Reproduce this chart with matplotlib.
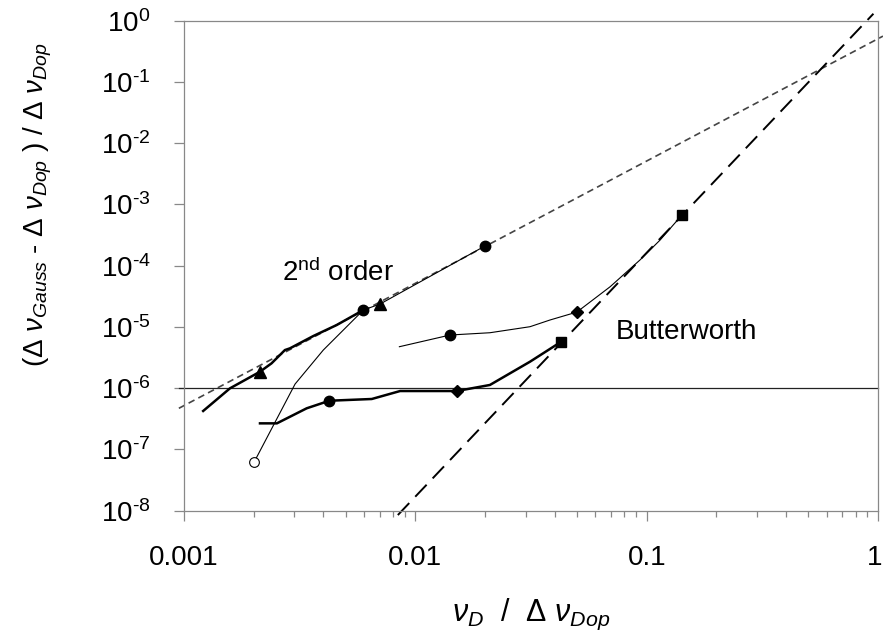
import matplotlib
matplotlib.use("Agg")
import matplotlib.pyplot as plt
import matplotlib.transforms as mtransforms
from matplotlib.ticker import FixedLocator, LogLocator, NullFormatter

plt.rcParams["font.family"] = "Liberation Sans"
plt.rcParams["mathtext.fontset"] = "custom"
plt.rcParams["mathtext.rm"] = "Liberation Sans"
plt.rcParams["mathtext.it"] = "Liberation Sans:italic"
plt.rcParams["mathtext.bf"] = "Liberation Sans:bold"

# --- reference lines ---
x_2nd_theory = [9.5e-4, 1.05]
y_2nd_theory = [4.7e-7, 0.56]
x_bw_theory = [8.4e-3, 0.955]
y_bw_theory = [8.5e-9, 1.3]
x_floor = [9.5e-4, 1.0]
y_floor = [1e-6, 1e-6]

# --- 2nd order filter, thick curve ---
x_2nd_thick = [1.21e-3, 1.58e-3, 2.13e-3, 2.39e-3, 2.73e-3, 2.87e-3,
               3.62e-3, 4.57e-3, 5.96e-3]
y_2nd_thick = [4.25e-7, 9.96e-7, 1.86e-6, 2.55e-6, 4.2e-6, 4.48e-6,
               7.11e-6, 1.076e-5, 1.89e-5]

# --- 2nd order filter, thin curve ---
x_2nd_thin = [2.007e-3, 3.02e-3, 4.0e-3, 5.96e-3, 7.04e-3, 2.0e-2]
y_2nd_thin = [6.17e-8, 1.17e-6, 4.2e-6, 1.89e-5, 2.37e-5, 2.1e-4]

# --- Butterworth filter, thick curve ---
x_bw_thick = [2.13e-3, 2.52e-3, 3.39e-3, 4.25e-3, 6.48e-3, 8.59e-3,
              1.066e-2, 1.51e-2, 2.10e-2, 3.13e-2, 4.27e-2]
y_bw_thick = [2.67e-7, 2.67e-7, 4.7e-7, 6.25e-7, 6.67e-7, 9.0e-7,
              9.0e-7, 9.0e-7, 1.13e-6, 2.71e-6, 5.74e-6]

# --- Butterworth filter, thin curve ---
x_bw_thin = [8.53e-3, 1.413e-2, 2.10e-2, 3.13e-2, 3.82e-2, 4.99e-2,
             6.95e-2, 9.35e-2, 0.1143, 0.142]
y_bw_thin = [4.76e-6, 7.39e-6, 8.05e-6, 1.01e-5, 1.30e-5, 1.75e-5,
             4.54e-5, 1.24e-4, 2.63e-4, 6.73e-4]

# --- markers ---
tri_x = [2.13e-3, 7.04e-3]
tri_y = [1.86e-6, 2.37e-5]
circ_x = [5.96e-3, 2.0e-2, 4.25e-3, 1.413e-2]
circ_y = [1.89e-5, 2.1e-4, 6.25e-7, 7.39e-6]
diam_x = [1.51e-2, 4.99e-2]
diam_y = [9.0e-7, 1.75e-5]
sq_x = [4.27e-2, 0.142]
sq_y = [5.74e-6, 6.73e-4]
open_x = [2.007e-3]
open_y = [6.17e-8]

xticks = [0.001, 0.01, 0.1, 1]
xticklabels = ["0.001", "0.01", "0.1", "1"]
yexps = [0, -1, -2, -3, -4, -5, -6, -7, -8]

fig = plt.figure(figsize=(8.83, 6.35), dpi=100)
ax = fig.add_axes([0.2084, 0.1957, 0.7860, 0.7717])

ax.set_xscale("log")
ax.set_yscale("log")
ax.set_xlim(1e-3, 1)
ax.set_ylim(1e-8, 1)

ax.plot(x_floor, y_floor, color="#222222", lw=0.9, clip_on=False, zorder=2)
ax.plot(x_2nd_theory, y_2nd_theory, color="#444444", lw=1.2,
        ls=(0, (4.0, 2.6)), clip_on=False, zorder=2)
ax.plot(x_bw_theory, y_bw_theory, color="black", lw=1.4,
        ls=(0, (8.5, 4.5)), clip_on=False, zorder=2)

ax.plot(x_2nd_thick, y_2nd_thick, color="black", lw=1.8, zorder=3)
ax.plot(x_2nd_thin, y_2nd_thin, color="black", lw=0.8, zorder=3)
ax.plot(x_bw_thick, y_bw_thick, color="black", lw=1.8, zorder=3)
ax.plot(x_bw_thin, y_bw_thin, color="black", lw=0.8, zorder=3)

ax.plot(tri_x, tri_y, ls="none", marker="^", ms=8, color="black", zorder=4)
ax.plot(circ_x, circ_y, ls="none", marker="o", ms=7.5, color="black", zorder=4)
ax.plot(diam_x, diam_y, ls="none", marker="D", ms=6.5, color="black", zorder=4)
ax.plot(sq_x, sq_y, ls="none", marker="s", ms=7.5, color="black", zorder=4)
ax.plot(open_x, open_y, ls="none", marker="o", ms=7, mfc="white",
        mec="black", mew=0.8, zorder=4)

ax.text(2.65e-3, 5.6e-5, "2$^{\\mathregular{nd}}$ order", fontsize=20,
        ha="left", va="baseline")
ax.text(0.0738, 6.47e-6, "Butterworth", fontsize=20, ha="left", va="baseline")

# axes styling
for sp in ax.spines.values():
    sp.set_color("#888888")
    sp.set_linewidth(0.9)

ax.xaxis.set_major_locator(FixedLocator(xticks))
ax.set_xticklabels(xticklabels)
ax.xaxis.set_minor_locator(LogLocator(base=10, subs=range(2, 10)))
ax.xaxis.set_minor_formatter(NullFormatter())
ax.yaxis.set_major_locator(FixedLocator([10.0 ** e for e in yexps]))
ax.set_yticklabels(["10$^{\\text{%d}}$" % e for e in yexps])
ax.yaxis.set_minor_locator(FixedLocator([]))

ax.tick_params(axis="both", which="major", direction="out", length=7,
               width=0.9, color="#888888", labelsize=20)
ax.tick_params(axis="x", which="major", pad=18)
ax.tick_params(axis="y", which="major", pad=17)
ax.tick_params(axis="x", which="minor", direction="out", length=4.3,
               width=0.9, color="#888888")
ax.tick_params(top=False, right=False, which="both")

# keep the last x label inside the canvas
last = ax.get_xticklabels()[-1]
last.set_transform(last.get_transform() +
                   mtransforms.ScaledTranslation(-3 / 100, 0, fig.dpi_scale_trans))

fig.text(531 / 883, 1 - 621 / 635,
         "$\\nu_{D}$  /  $\\Delta$ $\\nu_{Dop}$", fontsize=22,
         ha="center", va="baseline")
fig.text(38 / 883, 1 - 205 / 635,
         "($\\Delta$ $\\nu_{Gauss}$ - $\\Delta$ $\\nu_{Dop}$ ) / $\\Delta$ $\\nu_{Dop}$",
         fontsize=20, rotation=90, ha="center", va="center")

fig.savefig("out.png", dpi=100)
